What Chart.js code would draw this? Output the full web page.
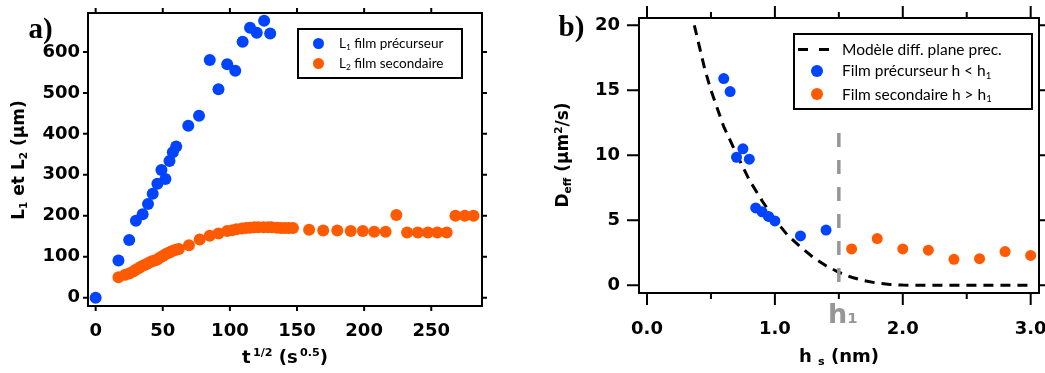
<!DOCTYPE html>
<html lang="fr"><head><meta charset="utf-8">
<title>L1 L2 et Deff</title>
<script src="https://cdn.jsdelivr.net/npm/chart.js@4.4.1/dist/chart.umd.min.js"></script>
<style>
html,body{margin:0;padding:0;background:#fff;}
#wrap{position:relative;width:1045px;height:373px;overflow:hidden;background:#fff;}
#ca{position:absolute;left:0;top:0;}
#cb{position:absolute;left:530px;top:0;}
.tx{position:absolute;white-space:nowrap;line-height:1;color:#000;}
.ax{font-family:"DejaVu Sans",sans-serif;font-weight:bold;}
.lg{font-family:Lato,sans-serif;}
.pl{font-family:"Liberation Serif",serif;font-weight:bold;}
.sb{font-size:0.62em;position:relative;top:0.3em;}
.sp{font-size:0.62em;position:relative;top:-0.6em;}
.box{position:absolute;border:2px solid #000;box-sizing:border-box;}
.dot{position:absolute;border-radius:50%;}
.dash{position:absolute;height:3px;background:#000;}
</style></head><body>
<div id="wrap">
<canvas id="ca" width="530" height="373"></canvas>
<canvas id="cb" width="515" height="373"></canvas>
</div>
<script>
// ---------- Data: panel a) ----------
const tL1 = [0,17,25,30,35,39,42.5,46,49,52,55,57.5,60,69,77,85,91.5,98,104,109.5,115,120,125.5,130];
const L1  = [0,91,141,188,204,229,254,278,312,290,334,355,369,420,444,580,509,570,554,625,659,647,676,645];
const tL2 = [17,22,25,28,30,32,34,36,38,40,42,44,46,48,50,52,54,56,58,60,62,69.5,77.5,85,91.5,98,102,105,109,112,115,118,121,125,128.5,131,135,138,141,144,147,159,169.5,180,190,199,207.5,216,224,232,240,247.5,254.5,261.5,268,275,281.5];
const L2  = [50,56,59,64,68,72,76,79,82,86,89,91,93,98,102,106,109,112,115,117,119,128,142,151,157,163,165,167,169,170,171,172,172,172,172,172,171,170,170,170,170,166,164,164,163,163,161,161,202,159,159,159,159,159,200,200,200];
const xTicksA = [0,50,100,150,200,250];
const xTickLabelsA = ['0','50','100','150','200','250'];
const yTicksA = [0,100,200,300,400,500,600];
const yTickLabelsA = ['0','100','200','300','400','500','600'];

// ---------- Data: panel b) ----------
const hPrec = [0.60,0.65,0.70,0.75,0.80,0.85,0.90,0.95,1.00,1.20,1.40];
const dPrec = [15.9,14.9,9.85,10.5,9.7,5.95,5.65,5.3,4.95,3.8,4.25];
const hSec = [1.6,1.8,2.0,2.2,2.4,2.6,2.8,3.0];
const dSec = [2.8,3.6,2.8,2.7,2.0,2.05,2.6,2.3];
const hModel = [0.37,0.45,0.5,0.6,0.7,0.8,0.9,1.0,1.1,1.2,1.3,1.4,1.5,1.6,1.7,1.8,1.9,2.0,2.2,2.5,2.8,3.0];
const dModel = [20.0,16.7,15.0,12.2,10.1,8.1,6.5,5.05,3.85,2.95,2.15,1.5,1.0,0.62,0.35,0.17,0.06,0.02,0,0,0,0];
const h1Value = 1.5;
const h1LineD = [11.72,-0.3];
const xTicksB = [0,0.5,1,1.5,2,2.5,3];
const xTickLabelsB = ['0.0','','1.0','','2.0','','3.0'];
const yTicksB = [0,5,10,15,20];
const yTickLabelsB = ['0','5','10','15','20'];

const BLUE = '#0044ff';
const ORANGE = '#ff5a00';
const GRAY = '#969696';
const tickFont = {family:'"DejaVu Sans", sans-serif', size:18, weight:'bold'};

function frame(o){
  return {id:'frame', beforeDatasetsDraw(chart){
    const {ctx, chartArea:a, scales:{x, y}} = chart;
    ctx.save();
    ctx.strokeStyle = '#000'; ctx.lineWidth = o.lw;
    ctx.strokeRect(a.left, a.top, a.right - a.left, a.bottom - a.top);
    ctx.beginPath();
    x.ticks.forEach(t => {
      const p = x.getPixelForValue(t.value); const L = o.xLen(t.value);
      ctx.moveTo(p, a.bottom); ctx.lineTo(p, a.bottom + L);
      ctx.moveTo(p, a.top); ctx.lineTo(p, a.top - L);
    });
    y.ticks.forEach(t => {
      const p = y.getPixelForValue(t.value); const L = o.yLen;
      ctx.moveTo(a.left, p); ctx.lineTo(a.left - L, p);
      ctx.moveTo(a.right, p); ctx.lineTo(a.right + L, p);
    });
    ctx.stroke();
    ctx.restore();
  }};
}
function pts(xs, ys){ return xs.map((v,i)=>({x:v, y:ys[i]})); }
function axis(o){
  return {
    type:'linear', position:o.pos, min:o.min, max:o.max,
    afterBuildTicks: s => { s.ticks = o.ticks.map(v => ({value:v})); },
    afterFit: s => {
      if (o.pos === 'bottom') s.height = o.size; else s.width = o.size;
      s.paddingLeft = 0; s.paddingRight = 0; s.paddingTop = 0; s.paddingBottom = 0;
    },
    grid:{display:true, drawOnChartArea:false, drawTicks:false},
    border:{display:false},
    ticks:{font:tickFont, color:'#000', padding:o.pad, maxRotation:0, autoSkip:false,
      callback:(v,i)=>o.labels[i]}
  };
}

const chartA = new Chart(document.getElementById('ca'), {
  type:'scatter',
  data:{datasets:[
    {label:'L1 film précurseur', data:pts(tL1, L1), pointRadius:6, pointHoverRadius:6, pointBorderWidth:0, backgroundColor:BLUE, borderColor:BLUE},
    {label:'L2 film secondaire', data:pts(tL2, L2), pointRadius:6, pointHoverRadius:6, pointBorderWidth:0, backgroundColor:ORANGE, borderColor:ORANGE}
  ]},
  options:{
    responsive:false, animation:false, devicePixelRatio:1,
    layout:{padding:{top:13, right:48, left:0, bottom:0}},
    plugins:{legend:{display:false}, tooltip:{enabled:false}},
    scales:{
      x: axis({pos:'bottom', min:-5.7, max:287.8, ticks:xTicksA, labels:xTickLabelsA, size:67, pad:15}),
      y: axis({pos:'left', min:-20.2, max:695, ticks:yTicksA, labels:yTickLabelsA, size:88, pad:8})
    }
  },
  plugins:[frame({lw:2, xLen:()=>5, yLen:5})]
});

const chartB = new Chart(document.getElementById('cb'), {
  type:'scatter',
  data:{datasets:[
    {label:'Film précurseur h < h1', data:pts(hPrec, dPrec), order:1, pointRadius:5.5, pointHoverRadius:5.5, pointBorderWidth:0, backgroundColor:BLUE, borderColor:BLUE},
    {label:'Film secondaire h > h1', data:pts(hSec, dSec), order:1, pointRadius:5.5, pointHoverRadius:5.5, pointBorderWidth:0, backgroundColor:ORANGE, borderColor:ORANGE},
    {label:'Modèle diff. plane prec.', data:pts(hModel, dModel), order:3, showLine:true, pointRadius:0, borderColor:'#000', borderWidth:3, borderDash:[10,7], tension:0, fill:false},
    {label:'h1', data:pts([h1Value,h1Value], h1LineD), order:2, showLine:true, pointRadius:0, borderColor:GRAY, borderWidth:3.5, borderDash:[14,13], tension:0, fill:false}
  ]},
  options:{
    responsive:false, animation:false, devicePixelRatio:1,
    layout:{padding:{top:18, right:6, left:0, bottom:0}},
    plugins:{legend:{display:false}, tooltip:{enabled:false}},
    scales:{
      x: axis({pos:'bottom', min:-0.0625, max:3.065, ticks:xTicksB, labels:xTickLabelsB, size:80, pad:26}),
      y: axis({pos:'left', min:-0.59, max:20.56, ticks:yTicksB, labels:yTickLabelsB, size:109, pad:19})
    }
  },
  plugins:[frame({lw:2, xLen:v=>(Math.abs(v-Math.round(v))<1e-6?12:6), yLen:12})]
});

// ---------- HTML text overlays ----------
const wrap = document.getElementById('wrap');
function txt(html, x, y, cls, o={}){
  const d = document.createElement('div');
  d.className = 'tx ' + cls;
  d.innerHTML = html;
  d.style.left = x + 'px'; d.style.top = y + 'px';
  if (o.size) d.style.fontSize = o.size + 'px';
  if (o.color) d.style.color = o.color;
  let tr = o.anchor === 'l' ? 'translate(0,-50%)' : 'translate(-50%,-50%)';
  if (o.rot) tr += ' rotate(-90deg)';
  d.style.transform = tr;
  wrap.appendChild(d);
  return d;
}
function el(cls, x, y, w, h, color){
  const d = document.createElement('div');
  d.className = cls;
  d.style.left = x + 'px'; d.style.top = y + 'px';
  d.style.width = w + 'px'; d.style.height = h + 'px';
  if (color) d.style.background = color;
  wrap.appendChild(d);
  return d;
}

// panel labels
txt('a)', 40.5, 28, 'pl', {size:29});
txt('b)', 571.5, 26, 'pl', {size:29});

// axis titles
txt('L<span class="sb">1</span> et L<span class="sb">2</span> (µm)', 18, 160, 'ax', {size:17, rot:true});
txt('t<span class="sp">&thinsp;1/2</span> (s<span class="sp">&thinsp;0.5</span>)', 285, 357, 'ax', {size:18});
txt('D<span class="sb">eff</span> (µm<span class="sp">2</span>/s)', 562, 155, 'ax', {size:17, rot:true});
txt('h <span class="sb">s</span> (nm)', 839, 356, 'ax', {size:18});

// h1 label below threshold line
const h1px = 530 + chartB.scales.x.getPixelForValue(h1Value);
txt('h<span style="font-size:0.55em">1</span>', h1px + 4, 313, 'ax', {size:27, color:GRAY});

// legend a)
el('box', 297, 28, 166, 51);
el('dot', 312.5, 38, 11, 11, BLUE);
el('dot', 312.5, 58, 11, 11, ORANGE);
txt('L<span class="sb">1</span> film précurseur', 339, 43.5, 'lg', {size:13.5, anchor:'l'});
txt('L<span class="sb">2</span> film secondaire', 339, 63.5, 'lg', {size:13.5, anchor:'l'});

// legend b)
el('box', 793, 33, 240, 77);
el('dash', 798, 47.5, 10, 3, '#000');
el('dash', 819, 47.5, 10, 3, '#000');
el('dot', 810.7, 64.5, 12, 12, BLUE);
el('dot', 810.7, 87.5, 12, 12, ORANGE);
txt('Modèle diff. plane prec.', 842, 49.5, 'lg', {size:15.5, anchor:'l'});
txt('Film précurseur h &lt; h<span class="sb">1</span>', 842, 71, 'lg', {size:15.5, anchor:'l'});
txt('Film secondaire h &gt; h<span class="sb">1</span>', 842, 94.5, 'lg', {size:15.5, anchor:'l'});
</script></body></html>
